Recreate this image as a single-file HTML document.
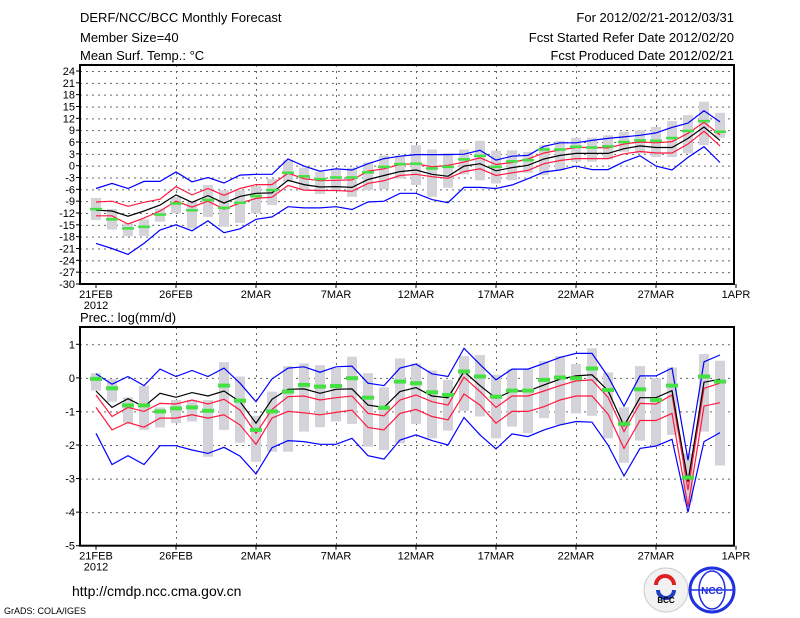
<!DOCTYPE html>
<html><head><meta charset="utf-8"><style>
body{margin:0;background:#fff;}
svg{display:block;font-family:"Liberation Sans",sans-serif;}
</style></head><body>
<svg id="c" width="800" height="618" viewBox="0 0 800 618">
<g font-size="13" fill="#000">
<text x="80" y="22">DERF/NCC/BCC Monthly Forecast</text>
<text x="80" y="42">Member Size=40</text>
<text x="80" y="60">Mean Surf. Temp.: °C</text>
<text x="734" y="22" text-anchor="end">For 2012/02/21-2012/03/31</text>
<text x="734" y="42" text-anchor="end">Fcst Started Refer Date 2012/02/20</text>
<text x="734" y="60" text-anchor="end">Fcst Produced Date 2012/02/21</text>
</g>
<text x="80" y="322" font-size="13">Prec.: log(mm/d)</text>
<text x="72" y="596" font-size="14">http://cmdp.ncc.cma.gov.cn</text>
<text x="4" y="614" font-size="9">GrADS: COLA/IGES</text>
<g>
<circle cx="666" cy="590" r="22" fill="#f2f2f2" stroke="#ccc"/>
<path d="M656 585 a9 9 0 1 1 18 0" fill="none" stroke="#e02020" stroke-width="4"/>
<path d="M658 590 a8 8 0 0 0 16 0" fill="none" stroke="#2040c0" stroke-width="4"/>
<text x="666" y="603" font-size="8" text-anchor="middle" font-weight="bold">BCC</text>
</g>
<g>
<circle cx="712" cy="590" r="22" fill="#fff" stroke="#2030e0" stroke-width="3"/>
<ellipse cx="712" cy="590" rx="13" ry="19" fill="none" stroke="#2030e0" stroke-width="1.5"/>
<line x1="690" y1="590" x2="734" y2="590" stroke="#2030e0" stroke-width="1.5"/>
<text x="712" y="594" font-size="10" text-anchor="middle" font-weight="bold" fill="#2030e0">NCC</text>
</g>
</svg>
<script>
// ---- Temperature panel data (day 0 = 21FEB) ----
const xTickLabels = ["21FEB","26FEB","2MAR","7MAR","12MAR","17MAR","22MAR","27MAR","1APR"];
const tempTicks = [24,21,18,15,12,9,6,3,0,-3,-6,-9,-12,-15,-18,-21,-24,-27,-30];
const precTicks = [1,0,-1,-2,-3,-4,-5];
const tMean = [-11.3,-11.5,-12.8,-11.5,-10,-7.4,-9.3,-7.6,-9.5,-7.8,-7,-6.9,-3.7,-4.8,-5.4,-5.3,-5.5,-3.5,-2.5,-1.5,-1.1,-2.2,-2.7,-0.1,0.5,-1.3,-0.5,0.1,1.7,2.6,3.1,3.1,3.1,4.3,5,4.6,4.6,6.9,9.8,6.4];
const tRedHi = [-9.2,-9,-10.3,-9.3,-8.5,-5.3,-7.4,-5.8,-7.5,-5.8,-4.8,-4.8,-1.9,-3.3,-3.8,-3.7,-3.6,-1.4,-0.8,0.3,0.5,-0.3,0.1,0.9,2,0.3,0.8,1.7,3.2,4,4.6,4.6,4.5,5.5,6,5.8,6.1,8.2,11,7.8];
const tRedLo = [-12.7,-12.7,-14.8,-13.3,-11.5,-9,-10.5,-9,-11,-9.5,-8.3,-8,-5,-6.2,-6.3,-6.3,-6.5,-4.5,-3.8,-2.5,-2.2,-2.8,-3.2,-1.5,-0.8,-2.5,-1.8,-1.2,0.5,1.3,1.8,1.8,1.8,3,3.6,3.2,3.2,5.5,8.7,5];
const tBlueHi = [-5.8,-4.5,-5.8,-4,-4,-1.6,-4.1,-3,-4.4,-2.4,-2.2,-2.2,1.7,-0.1,-1.4,-0.8,-1.1,0.5,1.8,2.4,2.8,2.8,2.8,2.9,3.9,1.4,2.4,2.6,4.9,5.8,5.8,6.4,6.9,7.3,7.7,8.3,9.7,10.8,13.9,11.1];
const tBlueLo = [-19.7,-21,-22.5,-19.7,-16.3,-15,-16.5,-14,-17,-16,-13.6,-13,-10.4,-10.7,-10.7,-10.4,-11.1,-9.2,-9,-7,-7,-8.6,-9.4,-5.5,-5.5,-5.8,-4.9,-3.3,-1.6,-1.1,-0.1,-1,-1,1,2.5,-0.1,-1.1,2.1,4.8,0.8];
const tBarHi = [-8.2,-11,-14.6,-13.6,-10.9,-7.9,-9.2,-4.9,-6.2,-6.2,-5.2,-3.4,1.4,-0.5,-1.6,-0.7,-0.5,0.8,2.6,2.6,5.2,4.1,3.2,4.1,6.3,3.8,3.9,3.5,5.2,6.3,7.1,7.1,7.7,8.6,9,9.8,11.3,12.8,16.2,13.4];
const tBarLo = [-13.8,-16.2,-17.9,-17.8,-14.2,-12.1,-15.9,-13,-15.5,-14.5,-12.1,-10,-4.1,-6.2,-7.2,-6.2,-7.9,-6.2,-6,-3.3,-4.9,-7.9,-5.6,-2.2,-3.7,-4.5,-3.7,-1.8,-2.4,-1.1,1,1,1.6,3.5,3.1,2.2,2.2,3.1,5.2,7.1];
const tObs = [-11,-13.6,-15.9,-15.5,-12.4,-9.6,-11.3,-8.7,-10.7,-9.4,-7.7,-6.2,-1.8,-2.7,-3.4,-3,-3,-1.7,-0.3,0.4,0.5,-0.7,-0.3,1.6,2.5,-0.3,1.1,1.4,4.1,4.1,4.8,4.6,4.9,6,6.4,6.3,7,8.8,11.3,8.6];
// ---- Precipitation panel data ----
const pMean = [-0.39,-0.88,-0.62,-0.86,-0.46,-0.58,-0.44,-0.54,-0.39,-0.71,-1.35,-0.64,-0.34,-0.33,-0.46,-0.34,-0.33,-0.81,-0.88,-0.41,-0.29,-0.54,-0.59,0.19,-0.23,-0.61,-0.39,-0.39,-0.21,-0.04,0.06,0.09,-0.38,-1.43,-0.59,-0.59,-0.38,-3.09,-0.13,-0.04];
const pRedHi = [-0.51,-1.15,-0.88,-1.0,-0.76,-0.78,-0.66,-0.78,-0.64,-0.96,-1.65,-0.94,-0.56,-0.54,-0.66,-0.59,-0.54,-1.06,-1.13,-0.66,-0.51,-0.71,-0.81,0.02,-0.41,-0.88,-0.54,-0.54,-0.39,-0.23,-0.09,-0.06,-0.58,-1.6,-0.76,-0.78,-0.51,-3.34,-0.31,-0.16];
const pRedLo = [-0.88,-1.55,-1.33,-1.47,-1.2,-1.2,-1.1,-1.2,-1.1,-1.4,-1.98,-1.2,-1.0,-1.04,-1.1,-1.03,-0.96,-1.48,-1.55,-1.06,-0.94,-1.15,-1.25,-0.48,-0.81,-1.35,-1.0,-1.0,-0.86,-0.66,-0.54,-0.54,-1.08,-2.1,-1.27,-1.27,-1.06,-3.84,-0.84,-0.74];
const pBlueHi = [0.12,-0.19,0.04,-0.23,0.26,0.04,0.22,0.04,0.29,-0.16,-0.71,-0.03,0.29,0.33,0.17,0.33,0.35,-0.16,-0.23,0.29,0.41,0.12,0.04,0.88,0.4,-0.06,0.26,0.26,0.43,0.61,0.73,0.73,0.04,-0.84,0.06,0.06,0.29,-2.45,0.48,0.68];
const pBlueLo = [-1.65,-2.58,-2.32,-2.58,-2.02,-2.02,-2.15,-2.25,-2.07,-2.33,-2.86,-2.08,-1.87,-1.9,-1.98,-1.98,-1.8,-2.32,-2.42,-1.85,-1.7,-1.87,-2.0,-1.18,-1.7,-2.12,-1.67,-1.75,-1.55,-1.4,-1.3,-1.32,-2.0,-2.92,-2.1,-2.03,-1.83,-4.0,-1.9,-1.63];
const pBarHi = [0.14,-0.04,-0.58,-0.24,-0.88,-0.66,-0.66,-0.66,0.47,0.04,-1.13,-0.41,0.35,0.43,0.38,0.29,0.63,0.14,-0.28,0.58,0.43,0.22,-0.06,0.65,0.68,0.09,0.26,0.26,0.5,0.65,0.41,0.88,0.16,-0.88,0.35,-0.01,0.31,-2.25,0.71,0.51];
const pBarLo = [-0.38,-0.71,-1.35,-1.55,-1.48,-1.35,-1.3,-2.35,-1.55,-1.93,-2.5,-2.2,-2.2,-1.6,-1.47,-1.3,-1.37,-2.05,-2.15,-1.95,-1.37,-1.8,-1.57,-0.98,-1.15,-1.8,-1.45,-1.65,-1.2,-1.4,-1.06,-1.13,-1.8,-2.53,-1.87,-2.05,-1.7,-3.69,-1.6,-2.61];
const pObs = [-0.03,-0.31,-0.82,-0.82,-1.0,-0.91,-0.88,-0.98,-0.23,-0.68,-1.55,-1.0,-0.41,-0.21,-0.26,-0.24,-0.01,-0.59,-0.89,-0.11,-0.16,-0.43,-0.51,0.19,0.04,-0.56,-0.38,-0.38,-0.06,0.01,-0.01,0.28,-0.36,-1.37,-0.34,-0.66,-0.23,-2.97,0.04,-0.11];

const NS = "http://www.w3.org/2000/svg";
const svg = document.getElementById("c");
const X0 = 80, X1 = 734;
const xDay = d => 96 + 16 * d;
function mk(tag, attrs, parent){const e=document.createElementNS(NS,tag);for(const k in attrs)e.setAttribute(k,attrs[k]);(parent||svg).appendChild(e);return e;}

function panel(name, top, vTop, vBot, yTopPx, yBotPx, ticks, barHi, barLo, obs, bHi, bLo, rHi, rLo, mean, obsH, showYear){
  const y = v => yTopPx + (vTop - v) * (yBotPx - yTopPx) / (vTop - vBot);
  const g = mk("g", {});
  
  
  const grid = mk("g", {stroke:"#666","stroke-width":"1","stroke-dasharray":"2,4"}, g);
  
  
  ticks.forEach(t => { if (t !== vBot) mk("line",{x1:X0,x2:X1,y1:y(t)+0.5,y2:y(t)+0.5},grid); });
  for (let k = 1; k < 8; k++) mk("line",{x1:xDay(5*k)+0.5,x2:xDay(5*k)+0.5,y1:top,y2:yBotPx},grid);
  for (let i = 0; i < barHi.length; i++) {
    const r = mk("rect",{x:xDay(i)-5,y:y(barHi[i]),width:10,height:y(barLo[i])-y(barHi[i]),fill:"#d3d3d9"},g);
    
    
  }
  const line = (arr, col, nm) => {
    const p = mk("polyline",{points:arr.map((v,i)=>xDay(i)+","+y(v).toFixed(1)).join(" "),fill:"none",stroke:col,"stroke-width":"1.2"},g);
    
    
  };
  line(bHi,"#0000ff","blue-upper-line"); line(bLo,"#0000ff","blue-lower-line");
  line(rHi,"#ff1a40","red-upper-line"); line(rLo,"#ff1a40","red-lower-line");
  line(mean,"#000","ensemble-mean-line");
  for (let i = 0; i < obs.length; i++) {
    const r = mk("rect",{x:xDay(i)-6,y:y(obs[i])-obsH/2,width:12,height:obsH,fill:"#44e044"},g);
    
    
  }
  const fr = mk("rect",{x:X0,y:top,width:X1-X0,height:yBotPx-top,fill:"none",stroke:"#000","stroke-width":"2"},g);
  
  
  ticks.forEach(t => {
    mk("line",{x1:X0-4,x2:X0,y1:y(t),y2:y(t),stroke:"#000"},g);
    const tx = mk("text",{x:X0-5,y:y(t)+4,"font-size":"11","text-anchor":"end"},g);
    tx.textContent = t;
    
    
  });
  xTickLabels.forEach((l,k) => {
    mk("line",{x1:xDay(5*k),x2:xDay(5*k),y1:yBotPx,y2:yBotPx+4,stroke:"#000"},g);
    const tx = mk("text",{x:xDay(5*k),y:yBotPx+14,"font-size":"11","text-anchor":"middle"},g);
    tx.textContent = l;
    
    
  });
  const yr = mk("text",{x:xDay(0),y:yBotPx+25,"font-size":"11","text-anchor":"middle"},g);
  yr.textContent = "2012";
  
  
}
panel("temperature", 65, 24, -30, 71, 284, tempTicks, tBarHi, tBarLo, tObs, tBlueHi, tBlueLo, tRedHi, tRedLo, tMean, 2.5);
panel("precipitation", 327, 1, -5, 344.3, 545.7, precTicks, pBarHi, pBarLo, pObs, pBlueHi, pBlueLo, pRedHi, pRedLo, pMean, 4);
</script>
</body></html>
